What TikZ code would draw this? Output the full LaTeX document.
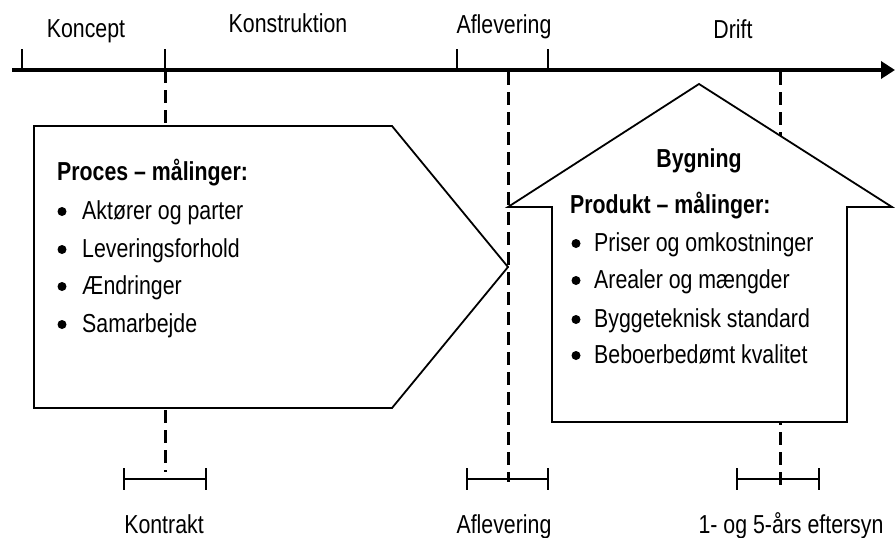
\documentclass[tikz,border=0pt]{standalone}
\usepackage{fontspec}
\setmainfont{Liberation Sans}[FakeStretch=0.82]
\usetikzlibrary{arrows.meta}
\begin{document}
\begin{tikzpicture}[x=1pt,y=-1pt,
  lbl/.style={anchor=base, inner sep=0pt, font=\fontsize{26}{30}\selectfont},
  lblw/.style={anchor=base west, inner sep=0pt, font=\fontsize{26}{30}\selectfont},
  hdr/.style={anchor=base west, inner sep=0pt, font=\fontsize{26}{30}\selectfont\bfseries},
  dashline/.style={line width=3pt, dash pattern=on 13pt off 7pt},
  tickline/.style={line width=1.6pt},
  shapeline/.style={line width=1.8pt, fill=white, line join=miter},
  bul/.style={circle, fill=black, inner sep=0pt, minimum size=9pt}]
\useasboundingbox (0,0) rectangle (895,538);

% dashed milestone lines
\coordinate (d1t) at (165,70); \coordinate (d1b) at (165,472);
\coordinate (d2t) at (508,72); \coordinate (d2b) at (508,482);
\coordinate (d3t) at (780,72); \coordinate (d3b) at (780,487);
\draw[dashline] (d1t) -- (d1b);
\draw[dashline] (d3t) -- (d3b);

% axis
\coordinate (axL) at (12,70); \coordinate (axR) at (895,70);
\draw[line width=3.5pt, -{Triangle[length=14pt,width=17pt]}] (axL) -- (axR);
\foreach \x in {22,165,457,548} \draw[tickline] (\x,49) -- (\x,70);

% phase labels
\node[lbl] (koncept) at (86,37) {Koncept};
\node[lbl] (konstr) at (288,32) {Konstruktion};
\node[lbl] (aflev) at (504,33) {Aflevering};
\node[lbl] (drift) at (733,38) {Drift};

% process pentagon
\draw[shapeline] (34,126) -- (392,126) -- (508,267) -- (392,408) -- (34,408) -- cycle;
\node[hdr] (proc) at (57,180) {Proces – målinger:};
\foreach \y/\t/\n in {219/Aktører og parter/p1, 257/Leveringsforhold/p2, 294/Ændringer/p3, 332/Samarbejde/p4} {
  \node[bul] (b\n) at (62,\y-7.5) {};
  \node[lblw] (\n) at (82,\y) {\t};
}

% house
\draw[shapeline] (552,422) -- (552,207) -- (508,207) -- (699,84) -- (892,207) -- (847,207) -- (847,422) -- cycle;
\draw[dashline] (d2t) -- (d2b);
\node[lbl, font=\fontsize{26}{30}\selectfont\bfseries] (byg) at (699,167) {Bygning};
\node[hdr] (prod) at (570,213) {Produkt – målinger:};
\foreach \y/\t/\n in {251/Priser og omkostninger/q1, 288/Arealer og mængder/q2, 327/Byggeteknisk standard/q3, 363/Beboerbedømt kvalitet/q4} {
  \node[bul] (b\n) at (576,\y-7.5) {};
  \node[lblw] (\n) at (594,\y) {\t};
}

% brackets
\foreach \a/\b in {124/206, 467/548, 737/819} {
  \draw[tickline] (\a,479) -- (\b,479);
  \draw[tickline] (\a,468) -- (\a,490);
  \draw[tickline] (\b,468) -- (\b,490);
}

% milestone labels
\node[lbl] (kontrakt) at (164,533) {Kontrakt};
\node[lbl] (aflev2) at (504,533) {Aflevering};
\node[lbl] (efter) at (791,533) {1- og 5-års eftersyn};
\end{tikzpicture}
\end{document}
